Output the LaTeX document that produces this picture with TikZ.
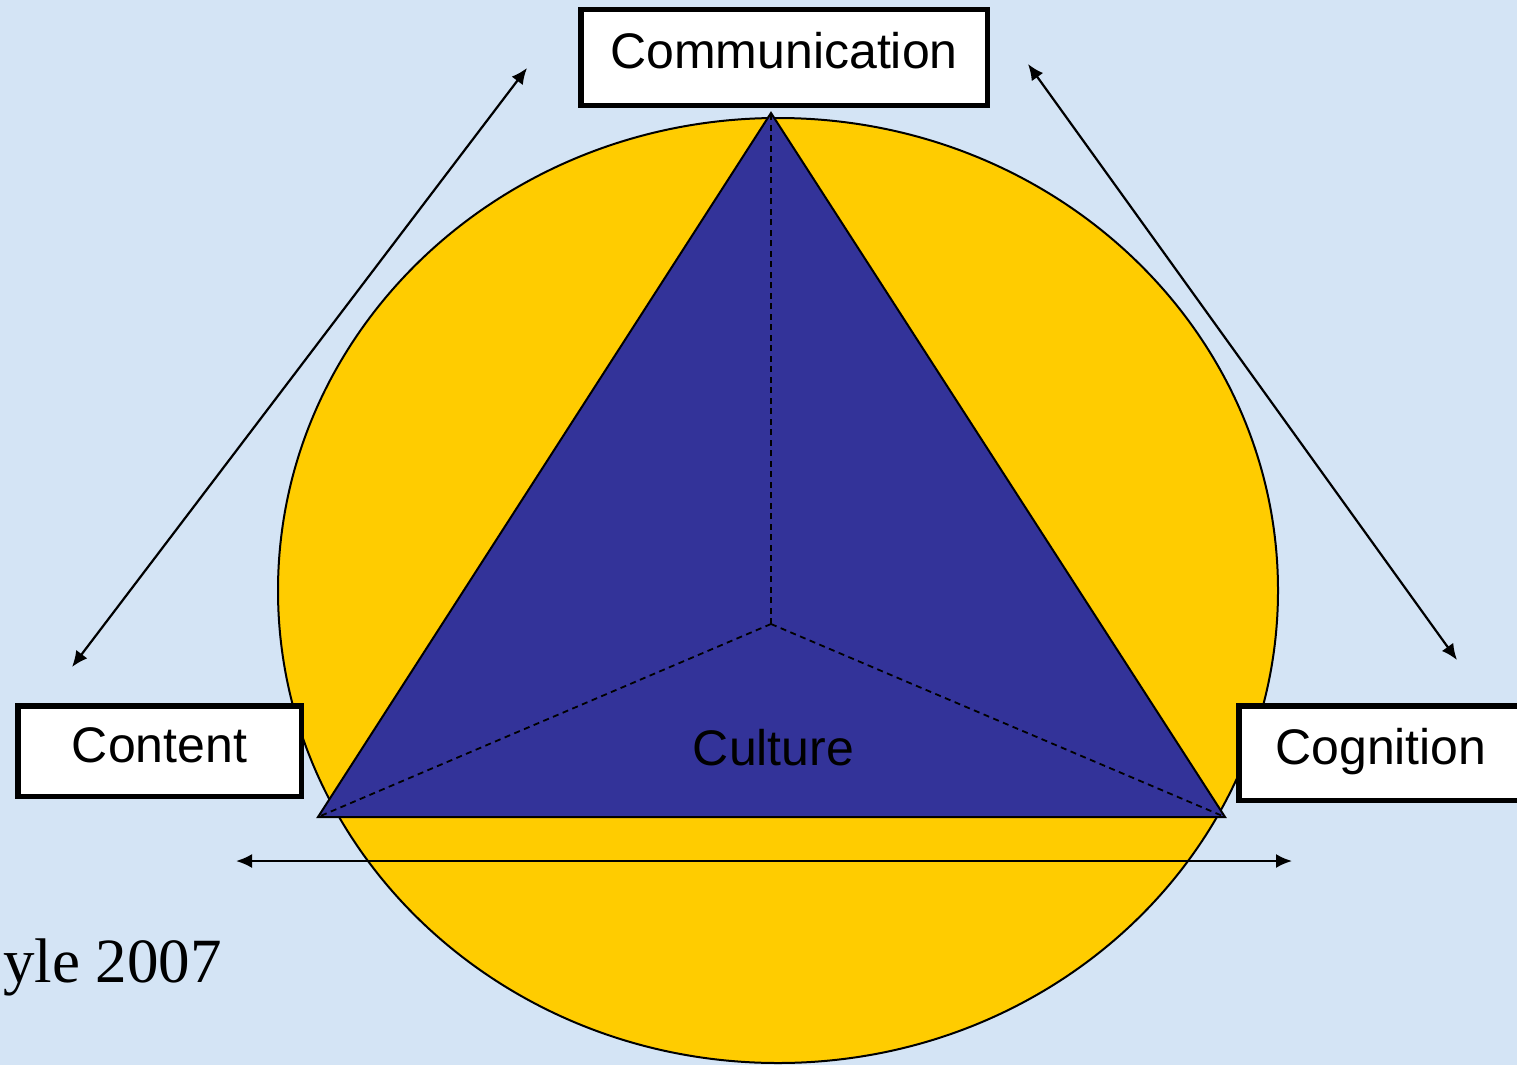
\documentclass[tikz,border=0pt]{standalone}
\usepackage{fontspec}
\setmainfont{Liberation Sans}
\newfontfamily\citefont{Liberation Serif}
\usetikzlibrary{arrows.meta}
\definecolor{paleblue}{RGB}{212,228,245}
\definecolor{gold}{RGB}{255,204,0}
\definecolor{indigo}{RGB}{51,51,153}
\tikzset{
  labelbox/.style={draw,line width=5.5pt,fill=white,inner sep=0pt,
    font=\fontsize{50}{60}\selectfont,text height=35pt,text depth=13pt},
  twoway/.style={line width=2.2pt,
    {Latex[length=16pt,width=14pt]}-{Latex[length=16pt,width=14pt]}},
  midline/.style={line width=1.8pt,dash pattern=on 6pt off 4.5pt}
}
\begin{document}
\begin{tikzpicture}[x=1pt,y=-1pt]
\useasboundingbox (0,0) rectangle (1517,1065);
\clip (0,0) rectangle (1517,1065);
\fill[paleblue] (0,0) rectangle (1517,1065);
\filldraw[fill=gold,line width=2pt] (778,590.5) ellipse [x radius=500,y radius=472.5];
\coordinate (apex) at (771,113);
\coordinate (left) at (318,817);
\coordinate (right) at (1225,817);
\coordinate (centre) at (771,624);
\filldraw[fill=indigo,line width=2pt,line join=miter] (apex) -- (left) -- (right) -- cycle;
\draw[midline] (centre) -- (apex);
\draw[midline] (centre) -- (left);
\draw[midline] (centre) -- (right);
\node[labelbox,minimum width=406.5pt,minimum height=95.5pt] (comm) at (784,57.5) {Communication};
\node[labelbox,minimum width=283.5pt,minimum height=90.5pt] (content) at (159.5,751) {Content};
\node[labelbox,minimum width=284.5pt,minimum height=94.5pt] (cognition) at (1381,753) {Cognition};
\node[font=\fontsize{50}{60}\selectfont,anchor=base,inner sep=0pt] (culture) at (773.5,765) {Culture};
\node[font=\citefont\fontsize{63}{70}\selectfont,anchor=base west,inner sep=0pt] (source) at (3,982) {yle 2007};
\coordinate (commL) at (527,68);
\coordinate (contentT) at (72,667);
\coordinate (commR) at (1028,64);
\coordinate (cognitionT) at (1457,660);
\coordinate (baseL) at (236,861);
\coordinate (baseR) at (1292,861);
\draw[twoway] (contentT) -- (commL);
\draw[twoway] (commR) -- (cognitionT);
\draw[twoway] (baseL) -- (baseR);
\end{tikzpicture}
\end{document}
